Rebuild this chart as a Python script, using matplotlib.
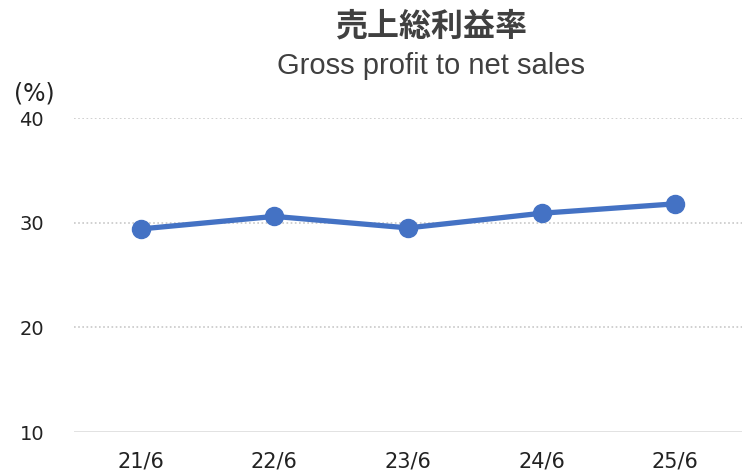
import matplotlib
matplotlib.use("Agg")
import matplotlib.pyplot as plt

categories = ["21/6", "22/6", "23/6", "24/6", "25/6"]
values = [29.4, 30.6, 29.5, 30.9, 31.8]
yticks = [10, 20, 30, 40]

plt.rcParams['font.family'] = ['Noto Sans CJK JP', 'DejaVu Sans']

fig = plt.figure(figsize=(7.42, 4.72), dpi=100)
ax = fig.add_axes([74/742, 40/472, 668/742, 314/472])

x = list(range(len(categories)))
ax.plot(x, values, color='#4472C4', linewidth=3.8, marker='o', markersize=13,
        solid_capstyle='round', zorder=3)

ax.set_xlim(-0.5, len(categories) - 0.5)
ax.set_ylim(10, 40)
ax.set_yticks(yticks)
ax.set_yticklabels([str(v) for v in yticks], family='DejaVu Sans', fontsize=14)
ax.set_xticks(x)
ax.set_xticklabels(categories, family='DejaVu Sans', fontsize=15)

for v in yticks[1:]:
    ax.axhline(v, color='#c8c8c8', linewidth=1.2, linestyle=(0, (1, 1.5)), zorder=1)
ax.axhline(10, color='#d9d9d9', linewidth=1.8, zorder=1)

for s in ax.spines.values():
    s.set_visible(False)
ax.tick_params(axis='both', length=0, colors='#222222')
ax.tick_params(axis='y', pad=21.5)
ax.tick_params(axis='x', pad=14)

fig.text(431/742, 1 - 27/472, "売上総利益率", ha='center', va='center',
         fontsize=23, fontweight='bold', color='#404040')
fig.text(431/742, 1 - 74/472, "Gross profit to net sales", ha='center', va='baseline',
         fontsize=21, color='#404040', family='Liberation Sans')
fig.text(34/742, 1 - 93/472, "(%)", ha='center', va='center',
         fontsize=17, color='#222222', family='DejaVu Sans')

fig.savefig("out.png", dpi=100)
